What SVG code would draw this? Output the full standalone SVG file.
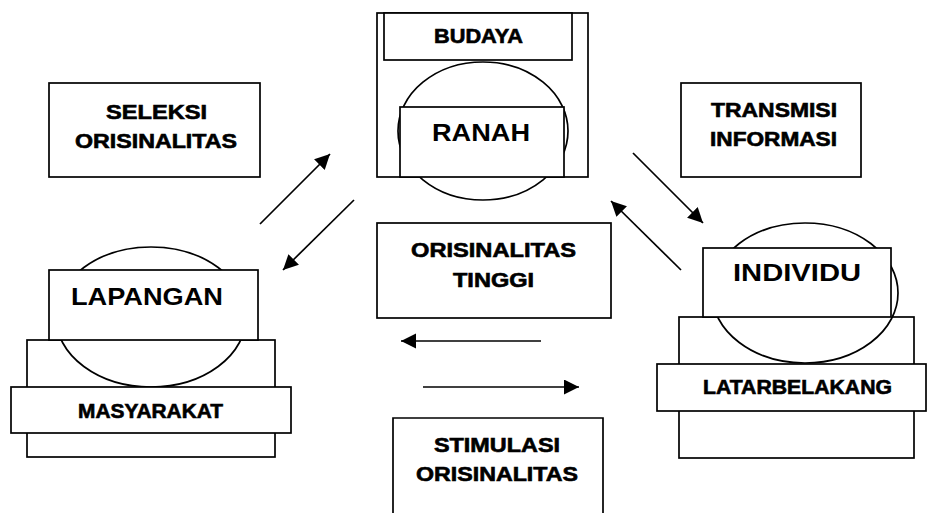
<svg xmlns="http://www.w3.org/2000/svg" width="927" height="513" viewBox="0 0 927 513">
<style>
.b{fill:#fff;stroke:#000;stroke-width:1.7}
.t{font-family:"Liberation Sans",Arial,sans-serif;font-weight:bold;font-size:19.5px;fill:#000;stroke:#000;stroke-width:0.6}
.d{font-family:"Liberation Sans",Arial,sans-serif;font-weight:bold;font-size:24px;fill:#000}
.c{stroke:#000;stroke-width:1.7;fill:none}
</style>
<defs>
<marker id="ah" markerUnits="userSpaceOnUse" markerWidth="16" markerHeight="16" refX="15" refY="7.5" orient="auto">
<path d="M0,0 L15,7.5 L0,15 z" fill="#000"/>
</marker>
</defs>
<rect width="927" height="513" fill="#fff"/>

<g id="ranah">
<rect class="b" x="377" y="13" width="211" height="164"/>
<rect class="b" x="384" y="13" width="188" height="47"/>
<ellipse class="b" cx="483" cy="131" rx="85" ry="69"/>
<rect class="b" x="400" y="107" width="164" height="70"/>
<text class="t" x="434" y="43" textLength="89" lengthAdjust="spacingAndGlyphs">BUDAYA</text>
<text class="d" x="432" y="141" textLength="98" lengthAdjust="spacingAndGlyphs">RANAH</text>
</g>

<g id="seleksi">
<rect class="b" x="49" y="83" width="211" height="94"/>
<text class="t" x="106" y="119" textLength="101" lengthAdjust="spacingAndGlyphs">SELEKSI</text>
<text class="t" x="75" y="148" textLength="162" lengthAdjust="spacingAndGlyphs">ORISINALITAS</text>
</g>

<g id="transmisi">
<rect class="b" x="681" y="83" width="180" height="94"/>
<text class="t" x="711" y="117" textLength="126" lengthAdjust="spacingAndGlyphs">TRANSMISI</text>
<text class="t" x="710" y="146" textLength="127" lengthAdjust="spacingAndGlyphs">INFORMASI</text>
</g>

<g id="orisinalitas-tinggi">
<rect class="b" x="377" y="223" width="234" height="95"/>
<text class="t" x="411" y="257" textLength="165" lengthAdjust="spacingAndGlyphs">ORISINALITAS</text>
<text class="t" x="453" y="287" textLength="81" lengthAdjust="spacingAndGlyphs">TINGGI</text>
</g>

<g id="lapangan">
<rect class="b" x="27" y="340" width="248" height="117"/>
<ellipse class="b" cx="151" cy="317" rx="95" ry="70"/>
<rect class="b" x="49" y="270" width="209" height="70"/>
<rect class="b" x="11" y="387" width="280" height="46"/>
<text class="d" x="71" y="305" textLength="152" lengthAdjust="spacingAndGlyphs">LAPANGAN</text>
<text class="t" x="78" y="418" textLength="145" lengthAdjust="spacingAndGlyphs">MASYARAKAT</text>
</g>

<g id="individu">
<rect class="b" x="679" y="317" width="235" height="141"/>
<ellipse class="b" cx="805" cy="293" rx="93" ry="70"/>
<rect class="b" x="703" y="248" width="188" height="69"/>
<rect class="b" x="657" y="364" width="269" height="47"/>
<text class="d" x="733" y="281" textLength="128" lengthAdjust="spacingAndGlyphs">INDIVIDU</text>
<text class="t" x="703" y="394" textLength="189" lengthAdjust="spacingAndGlyphs">LATARBELAKANG</text>
</g>

<g id="stimulasi">
<path class="b" d="M393,515 L393,418 L603,418 L603,515"/>
<text class="t" x="434" y="452" textLength="126" lengthAdjust="spacingAndGlyphs">STIMULASI</text>
<text class="t" x="416" y="481" textLength="162" lengthAdjust="spacingAndGlyphs">ORISINALITAS</text>
</g>

<g id="connectors">
<line class="c" x1="260" y1="224" x2="330" y2="154" marker-end="url(#ah)"/>
<line class="c" x1="354" y1="200" x2="283" y2="270" marker-end="url(#ah)"/>
<line class="c" x1="633" y1="153" x2="703" y2="223" marker-end="url(#ah)"/>
<line class="c" x1="681" y1="270" x2="611" y2="201" marker-end="url(#ah)"/>
<line class="c" x1="541" y1="341" x2="401" y2="341" marker-end="url(#ah)"/>
<line class="c" x1="423" y1="387" x2="579" y2="387" marker-end="url(#ah)"/>
</g>
</svg>
